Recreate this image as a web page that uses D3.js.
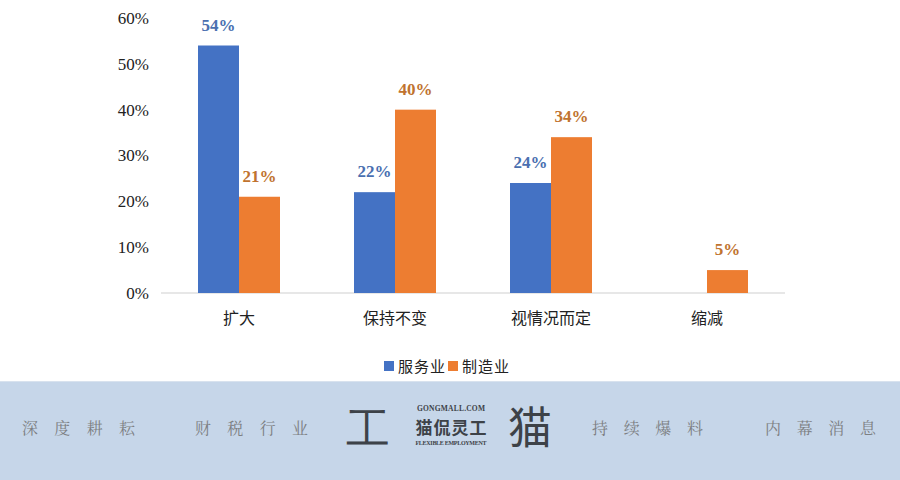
<!DOCTYPE html>
<html><head><meta charset="utf-8">
<script src="https://cdn.jsdelivr.net/npm/d3@7/dist/d3.min.js"></script>
<style>body{margin:0;background:#fff}svg{display:block}</style>
</head><body><svg id="c" width="900" height="480"></svg>
<script>
const categories = ["扩大", "保持不变", "视情况而定", "缩减"];
const seriesNames = ["服务业", "制造业"];
const service = [54, 22, 24, null];
const manufacturing = [21, 40, 34, 5];
const yTicks = [0, 10, 20, 30, 40, 50, 60];
const footerLeft = ["深 度 耕 耘", "财 税 行 业"];
const footerRight = ["持 续 爆 料", "内 幕 消 息"];

const barColors = ["#4472C4", "#ED7D31"];
const labelColors = ["#4A6FB0", "#C0732F"];
const serif = "'Liberation Serif','Times New Roman',serif";
const cjk = "'Noto Sans CJK SC',sans-serif";

const svg = d3.select("#c");
const x = d3.scaleBand().domain(categories).range([161, 785]);
const y = d3.scaleLinear().domain([0, 60]).range([293, 18]);
const barW = 41;
const sub = d3.scaleBand().domain([0, 1]).range([0, barW * 2]);

// y axis labels
svg.append("g").selectAll("text").data(yTicks).join("text")
  .attr("x", 149).attr("y", d => y(d)).attr("dy", "0.35em")
  .attr("text-anchor", "end").attr("font-family", serif).attr("font-size", 17)
  .attr("fill", "#222").text(d => d + "%");

// axis line
svg.append("line").attr("x1", 161).attr("x2", 785).attr("y1", y(0)).attr("y2", y(0))
  .attr("stroke", "#d0d0d0").attr("stroke-width", 1.2);

const series = [service, manufacturing];
series.forEach((vals, si) => {
  const data = categories.map((c, i) => ({c, v: vals[i]})).filter(d => d.v != null);
  const g = svg.append("g");
  g.selectAll("rect").data(data).join("rect")
    .attr("x", d => x(d.c) + x.bandwidth() / 2 - barW + sub(si))
    .attr("width", barW)
    .attr("y", d => y(d.v)).attr("height", d => y(0) - y(d.v))
    .attr("fill", barColors[si]);
  g.selectAll("text").data(data).join("text")
    .attr("x", d => x(d.c) + x.bandwidth() / 2 - barW + sub(si) + barW / 2)
    .attr("y", d => y(d.v) - 15)
    .attr("text-anchor", "middle").attr("font-family", serif).attr("font-weight", "bold")
    .attr("font-size", 17).attr("fill", labelColors[si]).text(d => d.v + "%");
});

// category labels
svg.append("g").selectAll("text").data(categories).join("text")
  .attr("x", d => x(d) + x.bandwidth() / 2).attr("y", 324)
  .attr("text-anchor", "middle").attr("font-family", cjk).attr("font-size", 16)
  .attr("fill", "#222").text(d => d);

// legend
const lx = [384, 448];
seriesNames.forEach((n, i) => {
  svg.append("rect").attr("x", lx[i]).attr("y", 361).attr("width", 10).attr("height", 10).attr("fill", barColors[i]);
  svg.append("text").attr("x", lx[i] + 14).attr("y", 372).attr("font-family", cjk)
    .attr("font-size", 15).attr("fill", "#222").attr("letter-spacing", 1).text(n);
});

// footer
svg.append("rect").attr("x", 0).attr("y", 381).attr("width", 900).attr("height", 99).attr("fill", "#C6D6E9");
svg.append("line").attr("x1", 0).attr("x2", 900).attr("y1", 381.5).attr("y2", 381.5).attr("stroke", "#d8e2ee");
const ft = (t, xx, anchor) => svg.append("text").attr("x", xx).attr("y", 434)
  .attr("font-family", "'Noto Serif CJK SC','Noto Sans CJK SC',serif").attr("font-size", 16)
  .attr("fill", "#7d7f82").attr("text-anchor", anchor).attr("letter-spacing", 0).text(t);
ft(footerLeft[0], 22, "start").attr("textLength", 113);
ft(footerLeft[1], 195, "start").attr("textLength", 113);
ft(footerRight[0], 592, "start").attr("textLength", 111);
ft(footerRight[1], 765, "start").attr("textLength", 111);

svg.append("text").attr("x", 368).attr("y", 444).attr("text-anchor", "middle")
  .attr("font-family", serif).attr("font-size", 44).attr("fill", "#3d4248").text("工");
svg.append("text").attr("x", 451).attr("y", 411).attr("text-anchor", "middle")
  .attr("font-family", serif).attr("font-size", 7.5).attr("font-weight", "bold").attr("fill", "#3d4248")
  .attr("textLength", 68).text("GONGMALL.COM");
svg.append("text").attr("x", 451).attr("y", 434).attr("text-anchor", "middle")
  .attr("font-family", cjk).attr("font-size", 17).attr("font-weight", "bold").attr("fill", "#3d4248")
  .attr("textLength", 71).text("猫侃灵工");
svg.append("text").attr("x", 451).attr("y", 445).attr("text-anchor", "middle")
  .attr("font-family", serif).attr("font-size", 6).attr("font-weight", "bold").attr("fill", "#3d4248")
  .attr("textLength", 71).text("FLEXIBLE EMPLOYMENT");
svg.append("text").attr("x", 530).attr("y", 444).attr("text-anchor", "middle")
  .attr("font-family", cjk).attr("font-size", 44).attr("fill", "#3d4248").text("猫");
</script></body></html>
